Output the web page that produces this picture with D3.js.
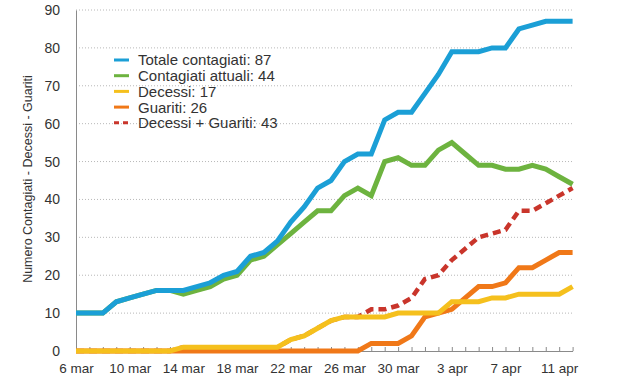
<!DOCTYPE html>
<html>
<head>
<meta charset="utf-8">
<script src="https://cdn.jsdelivr.net/npm/d3@7"></script>
<style>
  body { margin: 0; background: #fff; }
  svg { font-family: "Liberation Sans", Arial, Helvetica, sans-serif; }
  .grid line { stroke: #b8b8b8; stroke-dasharray: 1,2; }
  .tick text { fill: #333; }
</style>
</head>
<body>
<script>
// daily values, 6 mar -> 12 apr
var startDay = new Date(2020, 2, 6),
    endDay = new Date(2020, 3, 12);

var totale   = [10,10,10,13,14,15,16,16,16,17,18,20,21,25,26,29,34,38,43,45,50,52,52,61,63,63,68,73,79,79,79,80,80,85,86,87,87,87];
var attuali  = [10,10,10,13,14,15,16,16,15,16,17,19,20,24,25,28,31,34,37,37,41,43,41,50,51,49,49,53,55,52,49,49,48,48,49,48,46,44];
var decessi  = [0,0,0,0,0,0,0,0,1,1,1,1,1,1,1,1,3,4,6,8,9,9,9,9,10,10,10,10,13,13,13,14,14,15,15,15,15,17];
var guariti  = [0,0,0,0,0,0,0,0,0,0,0,0,0,0,0,0,0,0,0,0,0,0,2,2,2,4,9,10,11,14,17,17,18,22,22,24,26,26];
var decGuar  = [0,0,0,0,0,0,0,0,1,1,1,1,1,1,1,1,3,4,6,8,9,9,11,11,12,14,19,20,24,27,30,31,32,37,37,39,41,43];

var seriesNames = ["Totale contagiati: 87", "Contagiati attuali: 44", "Decessi: 17", "Guariti: 26", "Decessi + Guariti: 43"];
var yTicks = [0,10,20,30,40,50,60,70,80,90];
var monthNames = ["gen","feb","mar","apr","mag","giu","lug","ago","set","ott","nov","dic"];

setChart();

function setChart(){
    var width = 627, height = 376;
    var svg = d3.select("body").append("svg")
        .attr("width", width)
        .attr("height", height);

    var days = d3.timeDay.range(startDay, d3.timeDay.offset(endDay, 1));

    var x = d3.scaleTime()
        .domain([startDay, endDay])
        .range([76, 572.6]);
    var y = d3.scaleLinear()
        .domain([0, 90])
        .range([351, 10]);

    //dotted gridlines
    svg.append("g")
        .attr("class", "grid")
        .selectAll("line")
        .data(yTicks.slice(1))
        .enter().append("line")
        .attr("x1", x.range()[0]).attr("x2", x.range()[1])
        .attr("y1", function(d){ return y(d); })
        .attr("y2", function(d){ return y(d); });

    //y axis
    var yAxis = svg.append("g")
        .attr("transform", "translate(76,0)")
        .call(d3.axisLeft(y).tickValues(yTicks).tickSize(0).tickPadding(16));
    yAxis.select(".domain").attr("stroke", "#8a8a8a");
    yAxis.selectAll("text").attr("font-size", "14px");

    //x axis with day ticks pointing inward
    var xAxis = svg.append("g")
        .attr("transform", "translate(0,351)")
        .call(d3.axisBottom(x)
            .tickValues(days)
            .tickSizeInner(-4)
            .tickSizeOuter(0)
            .tickPadding(10)
            .tickFormat(function(d, i){
                return i % 4 === 0 ? d.getDate() + " " + monthNames[d.getMonth()] : "";
            }));
    xAxis.select(".domain").attr("stroke", "#8a8a8a");
    xAxis.selectAll(".tick line").attr("stroke", "#8a8a8a");
    xAxis.selectAll("text").attr("font-size", "13.5px").attr("dy", "0.9em");

    //y axis title
    svg.append("text")
        .attr("transform", "translate(32,179) rotate(-90)")
        .attr("text-anchor", "middle")
        .attr("font-size", "12.5px")
        .attr("fill", "#333")
        .text("Numero Contagiati - Decessi - Guariti");

    var series = [
        { name: seriesNames[0], values: totale,  color: "#1b9fd6", dash: null },
        { name: seriesNames[1], values: attuali, color: "#6db33f", dash: null },
        { name: seriesNames[2], values: decessi, color: "#f5c01d", dash: null },
        { name: seriesNames[3], values: guariti, color: "#f07818", dash: null },
        { name: seriesNames[4], values: decGuar, color: "#c9352b", dash: "8,5" }
    ];

    var line = d3.line()
        .x(function(d, i){ return x(days[i]); })
        .y(function(d){ return y(d); });

    //first series ends up on top, so draw in reverse
    svg.append("g").selectAll("path")
        .data(series.slice().reverse())
        .enter().append("path")
        .attr("fill", "none")
        .attr("stroke", function(d){ return d.color; })
        .attr("stroke-width", function(d){ return d.dash ? 4.5 : 5; })
        .attr("stroke-linejoin", "miter")
        .attr("stroke-dasharray", function(d){ return d.dash; })
        .attr("d", function(d){ return line(d.values); });

    //legend
    var legend = svg.append("g")
        .selectAll("g")
        .data(series)
        .enter().append("g")
        .attr("transform", function(d, i){ return "translate(114," + (60 + i * 15.7) + ")"; });
    legend.append("line")
        .attr("x1", 0).attr("x2", 15)
        .attr("stroke", function(d){ return d.color; })
        .attr("stroke-width", 3)
        .attr("stroke-dasharray", function(d){ return d.dash ? "5,4" : null; });
    legend.append("text")
        .attr("x", 24)
        .attr("dy", "0.36em")
        .attr("font-size", "15px")
        .attr("fill", "#333")
        .text(function(d){ return d.name; });
}
</script>
</body>
</html>
